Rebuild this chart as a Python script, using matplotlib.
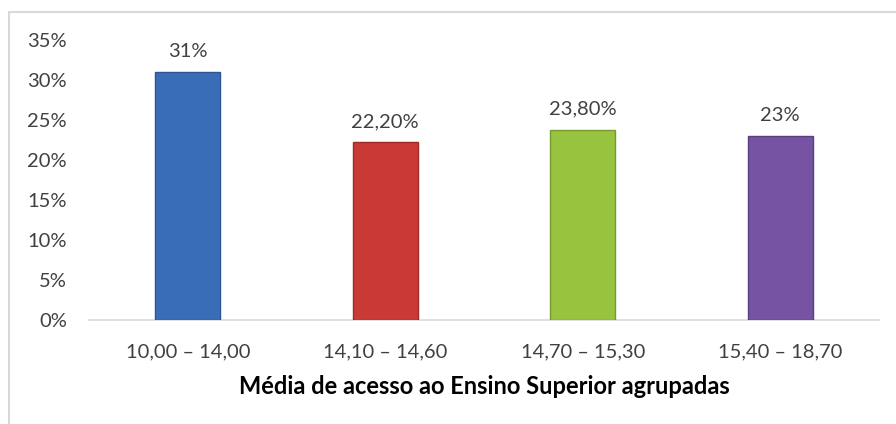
import matplotlib.pyplot as plt
from matplotlib.patches import Rectangle
import numpy as np

categories = ["10,00 – 14,00", "14,10 – 14,60", "14,70 – 15,30", "15,40 – 18,70"]
values = [31.0, 22.2, 23.8, 23.0]
value_labels = ["31%", "22,20%", "23,80%", "23%"]
colors = ["#3A6DB8", "#C93A36", "#98C33E", "#7654A3"]
edges = ["#2B5593", "#9C2B28", "#76992E", "#5A3F80"]
yticks = [0, 5, 10, 15, 20, 25, 30, 35]

plt.rcParams['font.family'] = ['Lato', 'DejaVu Sans']

fig = plt.figure(figsize=(8.96, 4.24), dpi=100)
# chart border (light grey frame, runs off the bottom/right)
fig.patches.append(Rectangle((9 / 896, -0.1), 1.2, 1 - 12 / 424 + 0.1,
                             transform=fig.transFigure, fill=False,
                             edgecolor="#D9D9D9", linewidth=1.5))

ax = fig.add_axes([89 / 896, 1 - 320 / 424, 790 / 896, 280 / 424])
x = np.arange(len(categories))
ax.bar(x, values, width=0.33, color=colors, edgecolor=edges, linewidth=1.0, zorder=3)

for xi, v, lab in zip(x, values, value_labels):
    ax.text(xi, v + 1.5, lab, ha="center", va="bottom", fontsize=14.5, color="#404040")

ax.set_xlim(-0.5, len(categories) - 0.5)
ax.set_ylim(0, 35)
ax.set_yticks(yticks)
ax.set_yticklabels([f"{t}%" for t in yticks])
ax.set_xticks(x)
ax.set_xticklabels(categories)
ax.tick_params(axis="both", length=0, labelsize=14.5, colors="#404040")
ax.tick_params(axis="y", pad=16)
ax.tick_params(axis="x", pad=17)

for s in ["top", "right", "left"]:
    ax.spines[s].set_visible(False)
ax.spines["bottom"].set_color("#D9D9D9")
ax.spines["bottom"].set_linewidth(1.2)

ax.set_xlabel("Média de acesso ao Ensino Superior agrupadas", fontsize=17,
              fontweight="bold", color="#000000", labelpad=10)

fig.savefig("out.png", dpi=100)
